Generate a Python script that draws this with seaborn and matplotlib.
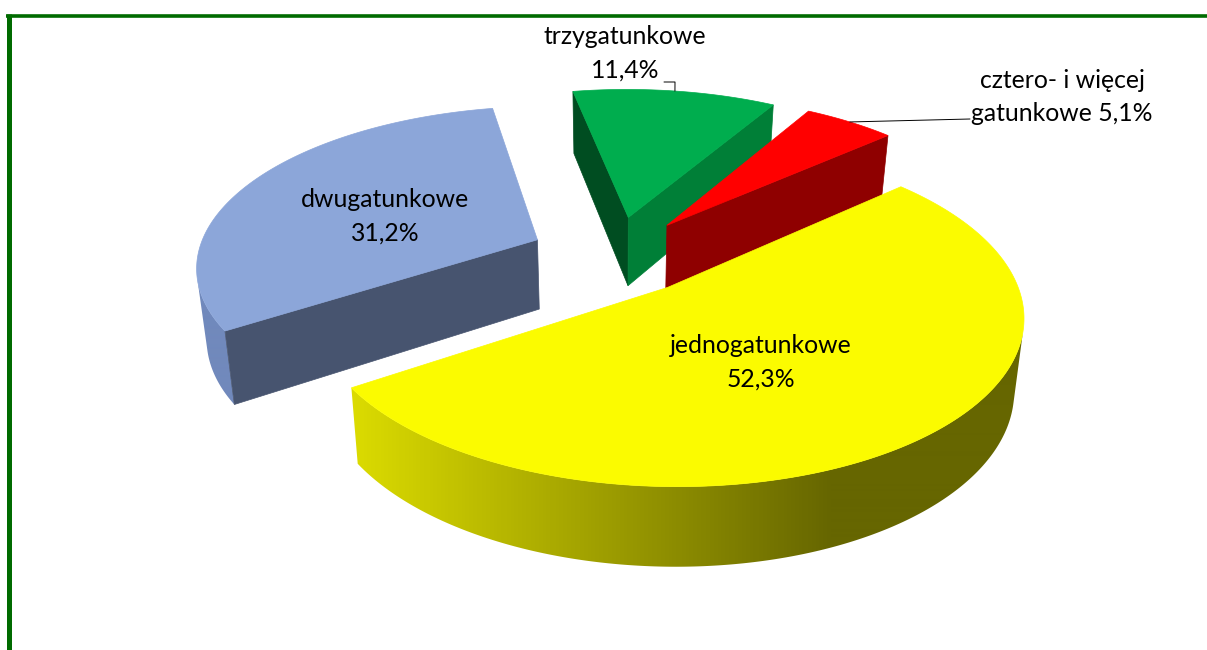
import numpy as np
import matplotlib
matplotlib.use('Agg')
import matplotlib.pyplot as plt
from matplotlib.patches import Polygon
import seaborn as sns

# Datos
categorias = ['jednogatunkowe', 'dwugatunkowe', 'trzygatunkowe', 'cztero- i więcej gatunkowe']
udzialy = [52.3, 31.2, 11.4, 5.1]

kolor_gora = ['#FBFB00', '#8CA6D9', '#00AD4E', '#FF0000']
kolor_ciecie_start = ['#FBFB00', '#47546F', '#004D21', '#8F0000']
kolor_ciecie_koniec = ['#FBFB00', '#47546F', '#007F37', '#8F0000']
kolor_bok = [['#DCDC00', '#666600'], ['#7189BC', '#7189BC'], ['#00803A', '#00803A'], ['#8F0000', '#8F0000']]

sns.set_theme(style='white')
plt.rcParams['font.family'] = ['Lato', 'DejaVu Sans']

fig, ax = plt.subplots(figsize=(12.07, 6.5), dpi=100)
fig.subplots_adjust(0, 0, 1, 1)
ax.axis('off')

# Proyeccion del plano del pastel a la imagen
CX, CY, A, B, P = 614.5, 255, 340, 158, 0.152
EXPLOSION = 0.25
PROF, Q, ESTRECHO = 70, 0.105, 0.024


def proyecta(x, y, z=0.0):
    w = 1 + P * y
    sx = CX + A * x / w
    sy = CY - B * y / w
    return sx - ESTRECHO * z * (sx - CX), sy + z * PROF / (1 + Q * y)


def punto(ang, medio, r=1.0, z=0.0):
    x = EXPLOSION * np.cos(medio) + r * np.cos(ang)
    y = EXPLOSION * np.sin(medio) + r * np.sin(ang)
    return proyecta(x, y, z)


def cara(ang_b, medio, color, zorden):
    # cara de corte entre el centro y el borde
    pts = [punto(medio, medio, 0), punto(ang_b, medio, 1), punto(ang_b, medio, 1, 1), punto(medio, medio, 0, 1)]
    ax.fill(*zip(*pts), color=color, lw=0.5, zorder=zorden)


def bok(angs, m, colores, zorden):
    # pared exterior con degradado horizontal recortado
    xs_t, ys_t = punto(angs, m)
    xs_b, ys_b = punto(angs, m, 1, 1)
    # solo la parte de la pared que mira al observador
    giro = np.gradient(xs_t) * (ys_b - ys_t) - np.gradient(ys_t) * (xs_b - xs_t)
    vis = giro < 0
    if not vis.any():
        return
    forma = Polygon(np.c_[np.r_[xs_t[vis], xs_b[vis][::-1]], np.r_[ys_t[vis], ys_b[vis][::-1]]], closed=True,
                    transform=ax.transData, fc='none', ec='none')
    ax.add_patch(forma)
    cmap = sns.blend_palette(colores, as_cmap=True)
    im = ax.imshow(np.arange(1207)[None, :], extent=(0, 1207, 650, 0), cmap=cmap, vmin=350, vmax=832,
                   aspect='auto', zorder=zorden, interpolation='bilinear')
    im.set_clip_path(forma)


# Angulos a partir de los valores, en sentido horario
inicio = np.radians(41.4)
fracciones = np.array(udzialy) / sum(udzialy) * 2 * np.pi
fin_ang = inicio - np.cumsum(fracciones)
ini_ang = fin_ang + fracciones

zorden = 1
medios = {}
# orden de pintado: atras hacia adelante
for i in [1, 2, 3, 0]:
    a0, a1 = ini_ang[i], fin_ang[i]
    m = (a0 + a1) / 2
    medios[i] = m
    angs = np.linspace(a0, a1, 400)

    if np.sin(m) > 0:
        bok(angs, m, kolor_bok[i], zorden)
    zorden += 1
    # solo las caras de corte que miran al observador
    if np.cos(a0) < 0:
        cara(a0, m, kolor_ciecie_start[i], zorden)
    if np.cos(a1) > 0:
        cara(a1, m, kolor_ciecie_koniec[i], zorden)
    zorden += 1
    if np.sin(m) <= 0:
        bok(angs, m, kolor_bok[i], zorden)
    zorden += 1

    xs, ys = punto(angs, m)
    cx0, cy0 = punto(m, m, 0)
    ax.fill(np.r_[cx0, xs], np.r_[cy0, ys], color=kolor_gora[i], lw=0.5, zorder=zorden)
    zorden += 1

ax.set_xlim(0, 1207)
ax.set_ylim(650, 0)

# Lineas guia hacia el borde de cada sector
gx, gy = punto(medios[2], medios[2])
ax.plot([664, 675, gx], [82, 82, gy], color='black', lw=0.7, zorder=30)
rx, ry = punto(medios[3], medios[3])
ax.plot([970, rx], [119, ry], color='black', lw=0.7, zorder=30)


# Etiquetas
def etiqueta(x, y, txt):
    ax.text(x, y, txt, ha='center', va='center', fontsize=17.8, linespacing=1.55, color='black', zorder=31)


def pct(v):
    return f'{v:.1f}%'.replace('.', ',')


etiqueta(761, 362, f'{categorias[0]}\n{pct(udzialy[0])}')
etiqueta(385, 216, f'{categorias[1]}\n{pct(udzialy[1])}')
etiqueta(625, 53, f'{categorias[2]}\n{pct(udzialy[2])}')
etiqueta(1062, 97, f'cztero- i więcej\ngatunkowe {pct(udzialy[3])}')

# Marco verde
ax.plot([6, 1207], [15.5, 15.5], color='#006B00', lw=2.6, solid_capstyle='butt', zorder=32)
ax.plot([8.5, 8.5], [14, 650], color='#006B00', lw=3.6, solid_capstyle='butt', zorder=32)

fig.savefig('out.png', dpi=100)
